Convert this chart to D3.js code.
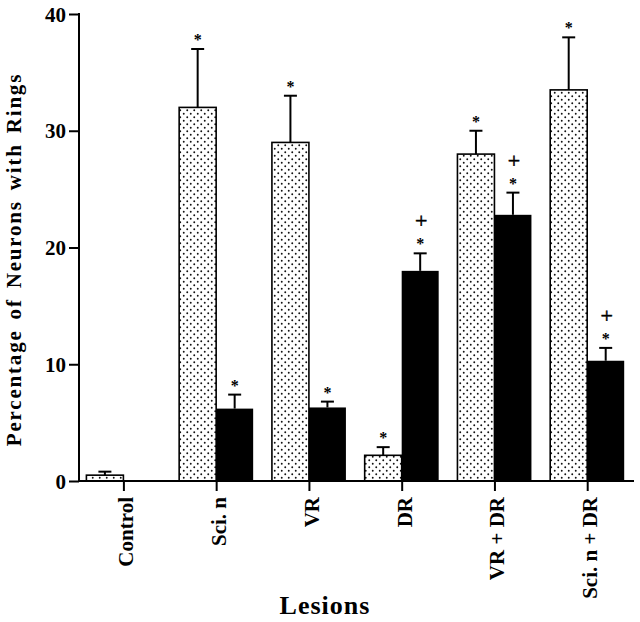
<!DOCTYPE html>
<html lang="en">
<head>
    <meta charset="UTF-8">
    <title>Percentage of Neurons with Rings</title>
    <script src="https://cdnjs.cloudflare.com/ajax/libs/d3/7.8.5/d3.min.js"></script>
    <style>
        body { margin: 0; background: #fff; }
        text { font-family: "Liberation Serif", "Times New Roman", serif; font-weight: bold; fill: #000; }
    </style>
</head>
<body>
    <svg id="chart" width="640" height="622"></svg>

    <script>
        // data
        const categories = ['Control', 'Sci. n', 'VR', 'DR', 'VR + DR', 'Sci. n + DR'];
        const stippledValues = [0.5, 32, 29, 2.2, 28, 33.5];
        const stippledErrors = [0.3, 5, 4, 0.7, 2, 4.5];
        const blackValues = [0, 6.2, 6.3, 18, 22.8, 10.3];
        const blackErrors = [0, 1.2, 0.5, 1.5, 1.9, 1.1];
        const stippledMarks = ['', '*', '*', '*', '*', '*'];
        const blackMarks = ['', '*', '*', '*+', '*+', '*+'];
        const yTicks = [0, 10, 20, 30, 40];

        const svg = d3.select('#chart');
        const margin = { top: 14, left: 79, bottom: 141, right: 6 };
        const width = 640, height = 622;
        const barW = 37;

        const x = d3.scalePoint().domain(categories)
            .range([margin.left + 44.4, width - margin.right - 46.8]);
        const y = d3.scaleLinear().domain([0, 40]).range([height - margin.bottom, margin.top]);

        // stipple pattern
        const pat = svg.append('defs').append('pattern')
            .attr('id', 'stipple').attr('patternUnits', 'userSpaceOnUse')
            .attr('width', 7).attr('height', 7);
        pat.append('rect').attr('width', 7).attr('height', 7).attr('fill', '#fff');
        pat.append('circle').attr('cx', 1.75).attr('cy', 1.75).attr('r', 0.95).attr('fill', '#111');
        pat.append('circle').attr('cx', 5.25).attr('cy', 5.25).attr('r', 0.95).attr('fill', '#111');

        const rows = categories.map((c, i) => ({
            c,
            s: stippledValues[i], se: stippledErrors[i], sm: stippledMarks[i],
            b: blackValues[i], be: blackErrors[i], bm: blackMarks[i]
        }));

        // bars
        svg.selectAll('.bar-s').data(rows).enter().append('rect')
            .attr('class', 'bar-s')
            .attr('x', d => x(d.c) - barW)
            .attr('y', d => y(d.s))
            .attr('width', barW)
            .attr('height', d => y(0) - y(d.s))
            .attr('fill', 'url(#stipple)')
            .attr('stroke', '#000').attr('stroke-width', 1.6);

        svg.selectAll('.bar-b').data(rows.filter(d => d.b > 0)).enter().append('rect')
            .attr('class', 'bar-b')
            .attr('x', d => x(d.c))
            .attr('y', d => y(d.b))
            .attr('width', barW)
            .attr('height', d => y(0) - y(d.b))
            .attr('fill', '#000');

        // error bars + significance marks
        const errs = [];
        rows.forEach(d => {
            errs.push({ cx: x(d.c) - barW / 2, v: d.s, e: d.se, m: d.sm });
            if (d.b > 0) errs.push({ cx: x(d.c) + barW / 2, v: d.b, e: d.be, m: d.bm });
        });

        const eg = svg.append('g').attr('stroke', '#000').attr('stroke-width', 2);
        errs.forEach(d => {
            eg.append('line').attr('x1', d.cx).attr('x2', d.cx)
                .attr('y1', y(d.v)).attr('y2', y(d.v + d.e));
            eg.append('line').attr('x1', d.cx - 6.5).attr('x2', d.cx + 6.5)
                .attr('y1', y(d.v + d.e)).attr('y2', y(d.v + d.e));
            if (d.m.includes('*')) {
                svg.append('text').attr('x', d.cx).attr('y', y(d.v + d.e) - 4)
                    .attr('text-anchor', 'middle').attr('font-size', 16)
                    .text('*');
            }
            if (d.m.includes('+')) {
                svg.append('text').attr('x', d.cx + 1).attr('y', y(d.v + d.e) - 25)
                    .attr('text-anchor', 'middle').attr('font-size', 22)
                    .style('font-weight', 'normal').attr('stroke', '#000').attr('stroke-width', 0.5)
                    .text('+');
            }
        });

        // axes
        const yAxis = svg.append('g')
            .attr('transform', `translate(${margin.left},0)`)
            .call(d3.axisLeft(y).tickValues(yTicks).tickSize(10).tickPadding(3));
        const xAxis = svg.append('g')
            .attr('transform', `translate(0,${y(0)})`)
            .call(d3.axisBottom(x).tickSize(10).tickFormat(''));
        [yAxis, xAxis].forEach(a => {
            a.select('.domain').remove();
            a.selectAll('line').attr('stroke', '#000').attr('stroke-width', 2);
        });
        yAxis.selectAll('text').attr('font-size', 21).attr('fill', '#000')
            .attr('dy', '0.34em')
            .style('font-family', '"Liberation Serif", serif').style('font-weight', 'bold');

        svg.append('line').attr('x1', margin.left).attr('x2', margin.left)
            .attr('y1', y(40) - 1).attr('y2', y(0)).attr('stroke', '#000').attr('stroke-width', 2);
        svg.append('line').attr('x1', margin.left).attr('x2', width - margin.right)
            .attr('y1', y(0)).attr('y2', y(0)).attr('stroke', '#000').attr('stroke-width', 2);

        // category labels
        svg.selectAll('.cat').data(categories).enter().append('text')
            .attr('class', 'cat')
            .attr('transform', d => `translate(${x(d) + 10},${y(0) + 16}) rotate(-90)`)
            .attr('text-anchor', 'end').attr('font-size', 21).text(d => d);

        // axis titles
        svg.append('text')
            .attr('transform', `translate(21,${(y(0) + y(40)) / 2 + 12}) rotate(-90)`)
            .attr('text-anchor', 'middle').attr('font-size', 21)
            .attr('letter-spacing', 1.8).attr('word-spacing', 3)
            .text('Percentage of Neurons with Rings');
        svg.append('text').attr('x', 325).attr('y', 614)
            .attr('text-anchor', 'middle').attr('font-size', 26)
            .attr('letter-spacing', 1).text('Lesions');
    </script>
</body>
</html>
